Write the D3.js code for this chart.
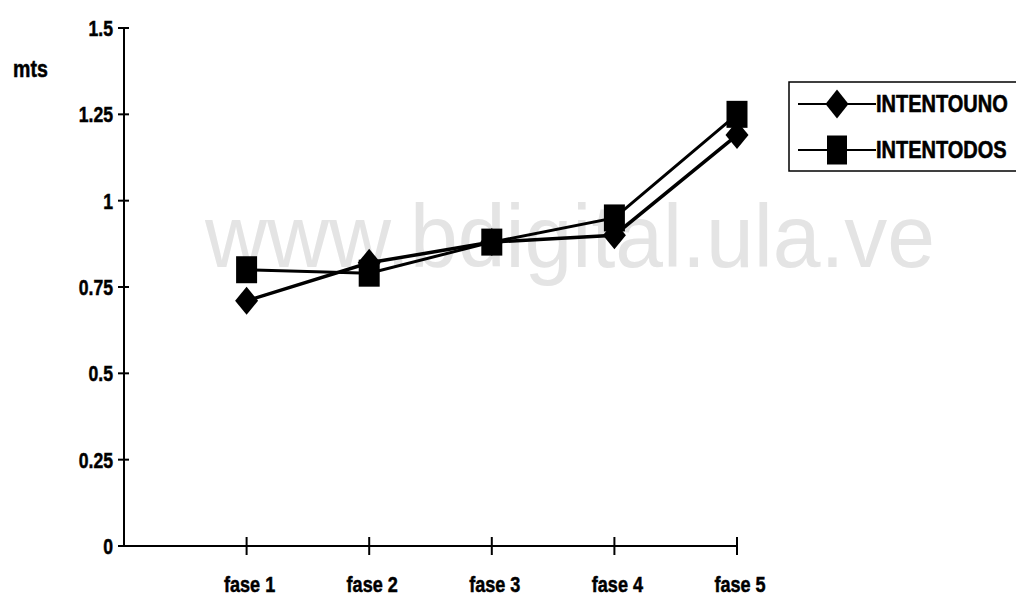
<!DOCTYPE html>
<html>
<head>
<meta charset="utf-8">
<script src="https://cdn.jsdelivr.net/npm/d3@7"></script>
<style>
  html, body { margin: 0; padding: 0; background: #fff; }
  svg { display: block; font-family: "Liberation Sans", Arial, sans-serif; }
  .lbl { font-weight: bold; fill: #000; stroke: #000; stroke-width: 0.5px; }
</style>
</head>
<body>
<svg id="chart" width="1016" height="597"></svg>
<script>
// Categories and series
const fases = ["fase 1", "fase 2", "fase 3", "fase 4", "fase 5"];
const intentoUno = [0.71, 0.82, 0.88, 0.90, 1.19];
const intentoDos = [0.80, 0.79, 0.88, 0.95, 1.25];
const yTicks = [0, 0.25, 0.5, 0.75, 1, 1.25, 1.5];
const yTickLabels = ["0", "0.25", "0.5", "0.75", "1", "1.25", "1.5"];
const seriesNames = ["INTENTOUNO", "INTENTODOS"];

const svg = d3.select("#chart");

// Squeeze bold labels horizontally to get the narrow printed look
function condense(sel, factor) {
  sel.each(function () {
    const w = this.getComputedTextLength();
    d3.select(this).attr("textLength", w * factor).attr("lengthAdjust", "spacingAndGlyphs");
  });
}

// Watermark behind the plot
svg.append("text")
  .attr("x", 205).attr("y", 267)
  .attr("textLength", 730)
  .attr("lengthAdjust", "spacingAndGlyphs")
  .style("font-size", "89px")
  .style("fill", "#e4e4e4")
  .text("www.bdigital.ula.ve");

// Scales: x is positional index (0 = axis origin, 1..5 = fases)
const x = d3.scaleLinear().domain([0, 5]).range([124, 737]);
const y = d3.scaleLinear().domain([0, 1.5]).range([546, 28]);

// Y axis
const yAxis = svg.append("g").attr("transform", "translate(124,0)");
yAxis.append("line").attr("y1", y(0)).attr("y2", y(1.5))
  .attr("stroke", "#000").attr("stroke-width", 2);
yAxis.selectAll("line.tick").data(yTicks).join("line").attr("class", "tick")
  .attr("x1", -6).attr("x2", 5)
  .attr("y1", d => y(d)).attr("y2", d => y(d))
  .attr("stroke", "#000").attr("stroke-width", 2);
yAxis.selectAll("text").data(yTicks).join("text").attr("class", "lbl")
  .attr("x", -11).attr("y", d => y(d)).attr("dy", "0.36em")
  .attr("text-anchor", "end")
  .style("font-size", "22px")
  .text((d, i) => yTickLabels[i])
  .call(condense, 0.8);

// X axis
const xAxis = svg.append("g").attr("transform", `translate(0,${y(0)})`);
xAxis.append("line").attr("x1", x(0)).attr("x2", x(5))
  .attr("stroke", "#000").attr("stroke-width", 2);
xAxis.selectAll("line.tick").data(fases).join("line").attr("class", "tick")
  .attr("x1", (d, i) => x(i + 1)).attr("x2", (d, i) => x(i + 1))
  .attr("y1", -9).attr("y2", 9)
  .attr("stroke", "#000").attr("stroke-width", 2);
xAxis.selectAll("text").data(fases).join("text").attr("class", "lbl")
  .attr("x", (d, i) => x(i + 1) + 3).attr("y", 46)
  .attr("text-anchor", "middle")
  .style("font-size", "22px")
  .text(d => d)
  .call(condense, 0.82);

// Axis title
svg.append("text").attr("class", "lbl").attr("x", 13).attr("y", 77)
  .style("font-size", "23px")
  .text("mts")
  .call(condense, 0.85);

// Marker shapes
function diamond(w, h) {
  return `M0,${-h / 2}L${w / 2},0L0,${h / 2}L${-w / 2},0Z`;
}
function square(w, h) {
  return `M${-w / 2},${-h / 2}H${w / 2}V${h / 2}H${-w / 2}Z`;
}

const line = d3.line().x((d, i) => x(i + 1)).y(d => y(d));

// Series lines
svg.append("path").datum(intentoDos).attr("d", line)
  .attr("fill", "none").attr("stroke", "#000").attr("stroke-width", 3);
svg.append("path").datum(intentoUno).attr("d", line)
  .attr("fill", "none").attr("stroke", "#000").attr("stroke-width", 3.5);

// Series markers
svg.selectAll("path.sq").data(intentoDos).join("path").attr("class", "sq")
  .attr("transform", (d, i) => `translate(${x(i + 1)},${y(d)})`)
  .attr("d", square(21, 27)).attr("fill", "#000");
svg.selectAll("path.dm").data(intentoUno).join("path").attr("class", "dm")
  .attr("transform", (d, i) => `translate(${x(i + 1)},${y(d)})`)
  .attr("d", diamond(23, 28)).attr("fill", "#000");

// Legend (box runs off the right edge of the page)
const legend = svg.append("g");
legend.append("rect").attr("x", 789).attr("y", 82).attr("width", 260).attr("height", 89)
  .attr("fill", "#fff").attr("stroke", "#000").attr("stroke-width", 1.5);
const entries = legend.selectAll("g.entry").data(seriesNames).join("g").attr("class", "entry")
  .attr("transform", (d, i) => `translate(0,${104 + i * 46})`);
entries.append("line").attr("x1", 798).attr("x2", 876).attr("y1", 0).attr("y2", 0)
  .attr("stroke", "#000").attr("stroke-width", 2);
entries.append("path").attr("transform", "translate(837,0)")
  .attr("d", (d, i) => i === 0 ? diamond(23, 29) : square(20, 29))
  .attr("fill", "#000");
// Narrow, tall legend lettering: small font stretched vertically
entries.append("text").attr("class", "lbl")
  .attr("transform", "translate(876,0) scale(1,1.18)")
  .attr("dy", "0.36em")
  .style("font-size", "20px")
  .text(d => d);
</script>
</body>
</html>
